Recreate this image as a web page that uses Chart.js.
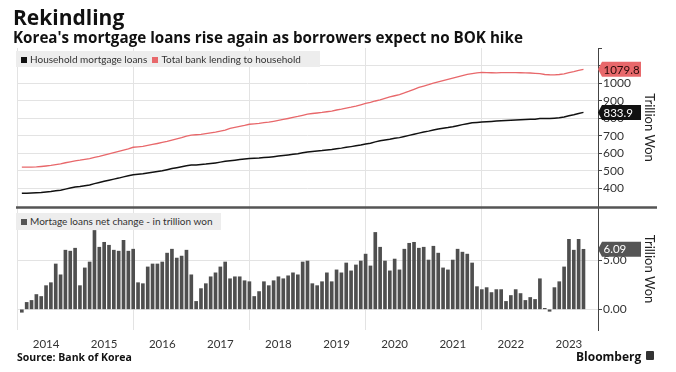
<!DOCTYPE html>
<html><head><meta charset="utf-8">
<script src="https://cdn.jsdelivr.net/npm/chart.js@4.4.0/dist/chart.umd.min.js"></script>
<style>
html,body{margin:0;padding:0;background:#fff;}
#wrap{position:relative;width:676px;height:372px;overflow:hidden;font-family:Lato,sans-serif;}
canvas{position:absolute;left:0;top:0;pointer-events:none;}
.t{position:absolute;white-space:nowrap;}
.lg{position:absolute;background:#ededed;font:10px Lato,sans-serif;color:#333;line-height:16px;padding-left:5px;white-space:nowrap;}
.sq{display:inline-block;width:6px;height:6px;margin-right:3px;vertical-align:0px;}
</style></head><body>
<div id="wrap">
<canvas id="c1" width="676" height="372"></canvas>
<canvas id="c2" width="676" height="372"></canvas>
<div class="t" style="left:13px;top:3px;font:700 21px 'Open Sans',sans-serif;color:#111">Rekindling</div>
<div class="t" style="left:13px;top:27px;font:700 15.2px 'Open Sans',sans-serif;color:#111">Korea's mortgage loans rise again as borrowers expect no BOK hike</div>
<div class="lg" style="left:16px;top:51px;width:299px;height:16px;"><span class="sq" style="background:#111"></span>Household mortgage loans&nbsp;&nbsp;<span class="sq" style="background:#e8686b"></span>Total bank lending to household</div>
<div class="lg" style="left:16px;top:213px;width:200px;height:17px;line-height:17px;"><span class="sq" style="background:#555"></span>Mortage loans net change - in trillion won</div>
<div class="t" style="left:17px;top:350px;font:700 10.5px 'Open Sans',sans-serif;color:#111">Source: Bank of Korea</div>
<div class="t" style="left:576px;top:348px;font:700 12px 'Open Sans',sans-serif;color:#111">Bloomberg</div>
<div class="t" style="left:646px;top:351px;width:8px;height:9px;background:#333;border-radius:1px"></div>
</div>
<script>
// Household mortgage loans (trillion won), monthly Jan 2014 - Sep 2023
const mortgage = [
371.6,372.3,373.2,374.7,376.0,378.4,381.1,385.7,389.2,395.2,401.1,407.3,
409.7,413.9,418.7,426.7,433.0,439.8,446.3,452.3,458.2,465.2,471.1,477.2,
479.9,482.5,486.8,491.4,496.0,500.8,506.5,512.6,517.8,523.2,529.2,532.7,
533.5,535.6,538.2,541.5,545.2,549.5,554.3,557.4,560.7,564.0,566.9,569.7,
571.0,572.8,575.6,578.0,580.9,584.2,587.3,590.7,594.4,597.9,602.7,607.6,
610.2,612.6,615.4,619.1,621.9,625.9,629.6,634.3,638.2,642.7,647.6,653.2,
657.6,665.4,671.7,676.6,680.5,685.6,689.6,695.7,702.4,709.2,715.4,721.7,
726.7,733.1,738.8,743.0,747.0,752.0,758.1,763.9,769.5,774.2,776.5,778.5,
780.7,782.4,784.4,786.4,787.2,788.6,790.6,792.2,793.1,794.3,795.3,798.4,
798.5,798.3,800.5,803.3,807.6,814.7,820.7,827.8,833.9];
// Total bank lending to household (trillion won)
const totalLending = [
520.5,520.8,521.0,522.0,524.5,527.5,531.0,535.5,539.5,546.0,551.5,557.0,
560.5,565.5,570.0,576.5,582.0,589.5,596.5,603.5,611.0,618.5,625.5,634.5,
637.0,639.5,645.5,650.5,656.0,662.0,668.5,676.0,683.0,690.0,698.0,704.5,
706.0,708.0,712.5,717.0,721.5,727.0,733.0,743.0,748.0,753.5,759.0,766.0,
768.5,771.0,775.0,778.5,783.0,788.0,793.5,799.0,805.0,810.5,817.5,824.5,
827.5,830.5,833.5,837.5,841.5,847.5,852.0,858.0,863.5,870.0,877.5,885.5,
891.0,899.0,906.0,914.0,922.0,929.0,936.0,945.0,955.0,966.0,976.5,984.5,
992.0,1000.5,1008.0,1015.5,1022.5,1030.0,1037.5,1044.5,1051.0,1055.5,1060.0,1062.5,
1061.5,1060.5,1060.0,1061.5,1061.0,1061.5,1061.0,1060.5,1060.0,1059.0,1057.5,1056.0,
1050.5,1049.0,1048.5,1050.5,1054.5,1061.0,1067.0,1074.5,1079.8];
// Mortgage loans net change (trillion won)
const netChange = [
-0.3,0.7,0.9,1.5,1.3,2.4,2.7,4.6,3.5,6.0,5.9,6.2,
2.4,4.2,4.8,8.0,6.3,6.8,6.5,6.0,5.9,7.0,5.9,6.1,
2.7,2.6,4.3,4.6,4.6,4.8,5.7,6.1,5.2,5.4,6.0,3.5,
0.8,2.1,2.6,3.3,3.7,4.3,4.8,3.1,3.3,3.3,2.9,2.8,
1.3,1.8,2.8,2.4,2.9,3.3,3.1,3.4,3.7,3.5,4.8,4.9,
2.6,2.4,2.8,3.7,2.8,4.0,3.7,4.7,3.9,4.5,4.9,5.6,
4.4,7.8,6.3,4.9,3.9,5.1,4.0,6.1,6.7,6.8,6.2,6.3,
5.0,6.4,5.7,4.2,4.0,5.0,6.1,5.8,5.6,4.7,2.3,2.0,
2.2,1.7,2.0,2.0,0.8,1.4,2.0,1.6,0.9,1.2,1.0,3.1,
0.1,-0.2,2.2,2.8,4.3,7.1,6.0,7.1,6.09];
const yearLabels = ['2014','2015','2016','2017','2018','2019','2020','2021','2022','2023'];
const topTicks = [400,500,600,700,800,900,1000,1100];
const bottomTicks = [0,5];
const gridMonths = [0,24,48,72,96];

const pts = arr => arr.map((v,i)=>({x:i+1,y:v}));
const GRID = '#e3e3e3', AX = '#444';
const tickFont = {family:'Lato', size:12};

function tag(ctx, x, y, text, fill, color){
  const h=15, w=39, a=4;
  ctx.save();
  ctx.beginPath();
  ctx.moveTo(x, y); ctx.lineTo(x+a, y-h/2); ctx.lineTo(x+a+w, y-h/2);
  ctx.lineTo(x+a+w, y+h/2); ctx.lineTo(x+a, y+h/2); ctx.closePath();
  ctx.fillStyle = fill; ctx.fill();
  ctx.fillStyle = color; ctx.font = '11.5px Lato'; ctx.textBaseline='middle'; ctx.textAlign='left';
  ctx.fillText(text, x+a+1.5, y+0.5);
  ctx.restore();
}

new Chart(document.getElementById('c1'), {
  type:'line',
  data:{datasets:[
    {label:'Total bank lending to household', data:pts(totalLending), borderColor:'#e8686b', borderWidth:1.3, pointRadius:0, tension:0},
    {label:'Household mortgage loans', data:pts(mortgage), borderColor:'#111', borderWidth:1.5, pointRadius:0, tension:0}
  ]},
  options:{
    responsive:false, animation:false, events:[],
    layout:{padding:{left:17, top:48, bottom:165, right:0}},
    plugins:{legend:{display:false}, tooltip:{enabled:false}},
    scales:{
      x:{type:'linear', min:0, max:120,
         afterBuildTicks:s=>{s.ticks=gridMonths.map(v=>({value:v}));},
         ticks:{display:false}, grid:{color:GRID, drawTicks:false}, border:{display:false},
         afterFit:s=>{s.height=0;}},
      y:{position:'right', min:293, max:1202,
         afterBuildTicks:s=>{s.ticks=topTicks.map(v=>({value:v}));},
         ticks:{color:'#333', font:tickFont, padding:1, callback:v=>String(v)},
         grid:{color:GRID, tickColor:AX, tickLength:4, drawTicks:true},
         border:{display:true, color:AX, width:1},
         title:{display:true, text:'Trillion Won', color:'#222', font:{family:'Lato', size:13}, padding:{top:19,bottom:0}},
         afterFit:s=>{s.width=78;}}
    }
  },
  plugins:[{id:'tags', afterDraw(chart){
    const ctx=chart.ctx, y=chart.scales.y, x=chart.chartArea.right;
    ctx.save(); ctx.strokeStyle=AX; ctx.lineWidth=1; ctx.beginPath();
    ctx.moveTo(x, chart.chartArea.top+0.5); ctx.lineTo(x+4, chart.chartArea.top+0.5); ctx.stroke(); ctx.restore();
    tag(ctx, x, y.getPixelForValue(totalLending[totalLending.length-1]), totalLending[totalLending.length-1].toFixed(1), '#e8686b', '#2a0a0a');
    tag(ctx, x, y.getPixelForValue(mortgage[mortgage.length-1]), mortgage[mortgage.length-1].toFixed(1), '#111', '#fff');
  }}]
});

new Chart(document.getElementById('c2'), {
  type:'bar',
  data:{datasets:[{label:'Mortage loans net change - in trillion won', data:pts(netChange), backgroundColor:'#4f4f4f', barThickness:3, xAxisID:'x', yAxisID:'y'}]},
  options:{
    responsive:false, animation:false, events:[],
    layout:{padding:{left:17, top:208, bottom:18, right:0}},
    plugins:{legend:{display:false}, tooltip:{enabled:false}},
    scales:{
      x:{type:'linear', min:0, max:120, offset:false,
         afterBuildTicks:s=>{s.ticks=gridMonths.map(v=>({value:v}));},
         ticks:{display:false}, grid:{color:GRID, drawTicks:false, offset:false}, border:{display:false},
         afterFit:s=>{s.height=0;}},
      xl:{type:'linear', position:'bottom', min:0, max:120, offset:false,
         afterBuildTicks:s=>{s.ticks=yearLabels.map((t,i)=>({value:6+12*i}));},
         ticks:{color:'#333', font:{family:'Lato', size:11.5}, padding:7, maxRotation:0, autoSkip:false,
                callback:(v)=>yearLabels[Math.round((v-6)/12)]},
         grid:{display:false, drawTicks:false}, border:{display:false},
         afterFit:s=>{s.height=24;}},
      y:{position:'right', min:-2.1, max:10.28,
         afterBuildTicks:s=>{s.ticks=bottomTicks.map(v=>({value:v}));},
         ticks:{color:'#333', font:tickFont, padding:1, callback:v=>v.toFixed(2)},
         grid:{color:GRID, tickColor:AX, tickLength:4, drawTicks:true},
         border:{display:true, color:AX, width:1},
         title:{display:true, text:'Trillion Won', color:'#222', font:{family:'Lato', size:13}, padding:{top:19,bottom:0}},
         afterFit:s=>{s.width=78;}}
    }
  },
  plugins:[{id:'sep', afterDraw(chart){
    const ctx=chart.ctx, y=chart.scales.y, x=chart.chartArea.right;
    ctx.save(); ctx.strokeStyle='#555'; ctx.lineWidth=2.5; ctx.beginPath();
    ctx.moveTo(16, 207.5); ctx.lineTo(657, 207.5); ctx.stroke(); ctx.restore();
    const last = netChange[netChange.length-1];
    tag(ctx, x, y.getPixelForValue(last), last.toFixed(2), '#555', '#fff');
  }}]
});
</script>
</body></html>
